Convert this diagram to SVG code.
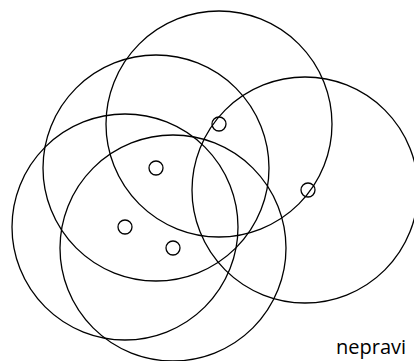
<svg xmlns="http://www.w3.org/2000/svg" width="414" height="361" viewBox="0 0 414 361">
<style>
.big{fill:none;stroke:#000;stroke-width:1.3}
.pt{fill:none;stroke:#000;stroke-width:1.3}
.lbl{font-family:"Open Sans","Noto Sans",sans-serif;font-size:20px;fill:#000}
</style>
<rect width="414" height="361" fill="#fff"/>
<g id="circles">
<circle class="big" cx="219" cy="124" r="113"/>
<circle class="big" cx="156" cy="168" r="113"/>
<circle class="big" cx="305" cy="190" r="113"/>
<circle class="big" cx="125" cy="227" r="113"/>
<circle class="big" cx="173" cy="248" r="113"/>
</g>
<g id="points">
<circle class="pt" cx="219" cy="124" r="7"/>
<circle class="pt" cx="156" cy="168" r="7"/>
<circle class="pt" cx="308" cy="190" r="7"/>
<circle class="pt" cx="125" cy="227" r="7"/>
<circle class="pt" cx="173" cy="248" r="7"/>
</g>
<text class="lbl" x="336" y="354">nepravi</text>
</svg>
